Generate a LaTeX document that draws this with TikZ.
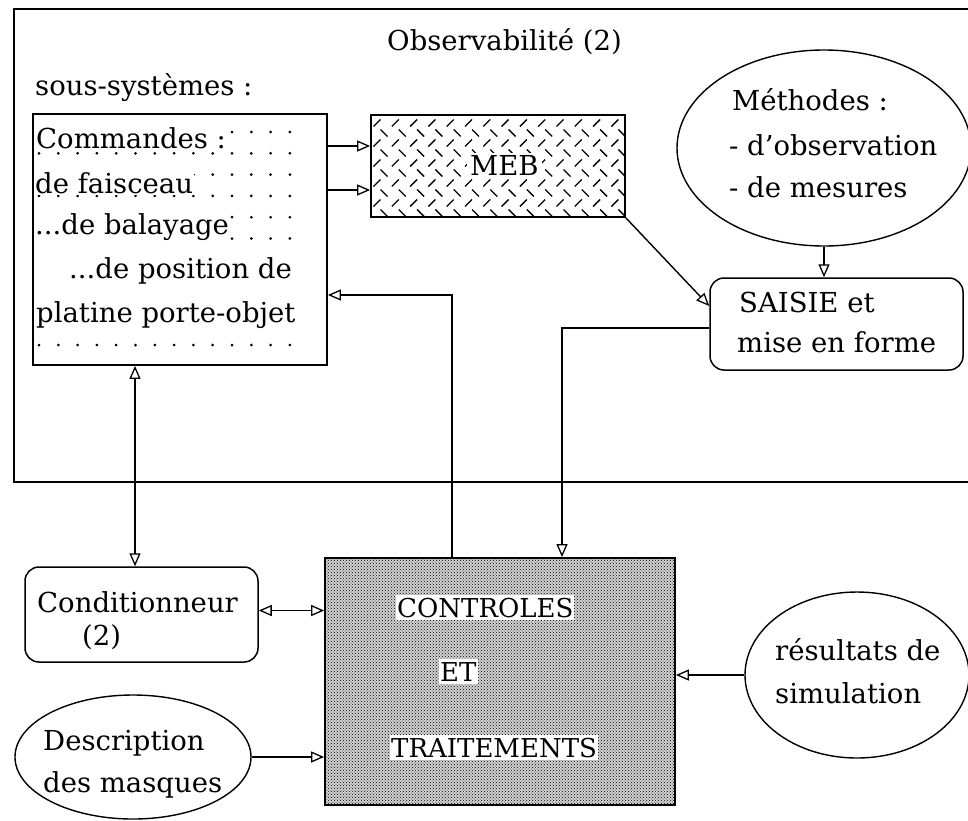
\documentclass[tikz,border=0pt]{standalone}
\usepackage{fontspec}
\setmainfont{DejaVu Serif}
\usetikzlibrary{shapes.geometric,arrows.meta,patterns}
\begin{document}
\begin{tikzpicture}[x=1pt,y=-1pt,
  txt/.style={font=\fontsize{27.5}{32}\selectfont,inner xsep=1pt,inner ysep=2pt,anchor=base west},
  wtxt/.style={txt,fill=white},
  ctxt/.style={font=\fontsize{26}{30}\selectfont,inner xsep=1pt,inner ysep=3pt,anchor=base west,fill=white},
  boxx/.style={draw,line width=1.8pt,inner sep=0pt},
  rbox/.style={draw,line width=1.5pt,rounded corners=14pt,inner sep=0pt},
  ell/.style={draw,ellipse,line width=1.4pt,inner sep=0pt},
  tip/.style={Triangle[open,length=13pt,width=11pt,line width=1.3pt]},
  arr/.style={line width=1.4pt,-{Triangle[open,length=13pt,width=11pt,line width=1.3pt]}},
  darr/.style={line width=1.4pt,{Triangle[open,length=13pt,width=11pt,line width=1.3pt]}-{Triangle[open,length=13pt,width=11pt,line width=1.3pt]}}
]
\useasboundingbox[fill=white] (0,0) rectangle (968,820);
% outer frame
\draw[line width=1.8pt] (968,9) -- (14,9) -- (14,482) -- (968,482);
\node[txt] (title) at (386,50) {Observabilité (2)};
\node[txt] (sous) at (34,95) {sous-systèmes :};

% Commandes box with dot grid
\node[boxx,minimum width=294pt,minimum height=251pt] (cmd) at (180,239.5) {};
\foreach \i in {0,...,13}
  \foreach \j in {0,...,10}
    \fill ({39+19.3*\i},{132+21.3*\j}) circle[radius=1.5pt];
\fill[white] (35,252) rectangle (70,290);
\node[wtxt] (l1) at (35,148) {Commandes :};
\node[wtxt] (l2) at (34,193) {de faisceau};
\node[wtxt] (l3) at (34,234) {...de balayage};
\node[wtxt] (l4) at (68,278) {...de position de};
\node[wtxt] (l5) at (35,322) {platine porte-objet};

% MEB box with herringbone hatch
\node[boxx,minimum width=254pt,minimum height=102pt] (meb) at (498,166) {};
\begin{scope}
  \clip (372,116) rectangle (624,216);
  \foreach \r in {0,...,5}{
    \foreach \c in {0,...,14}{
      \draw[line width=1.3pt] ({377+18.3*\c-3.5},{123+20*\r+3.5}) -- ({377+18.3*\c+3.5},{123+20*\r-3.5});
      \draw[line width=1.3pt] ({384+18.3*\c-3.5},{133+20*\r-3.5}) -- ({384+18.3*\c+3.5},{133+20*\r+3.5});
    }
  }
\end{scope}
\node[txt,fill=white,inner xsep=3pt] (mebt) at (467,175) {MEB};

% Methodes ellipse
\node[ell,minimum width=294pt,minimum height=196pt] (meth) at (824,148) {};
\node[txt] (m1) at (731,110) {Méthodes :};
\node[txt] (m2) at (728,155) {- d'observation};
\node[txt] (m3) at (728,197) {- de mesures};

% SAISIE box
\node[rbox,minimum width=253pt,minimum height=92pt] (sais) at (836.5,324) {};
\node[txt] (s1) at (738,312) {SAISIE et};
\node[txt] (s2) at (736,352) {mise en forme};

% CONTROLES box
\node[boxx,minimum width=350pt,minimum height=247pt,preaction={fill=gray!35},pattern=crosshatch dots,pattern color=black] (ctrl) at (500,681.5) {};
\node[ctxt] (c1t) at (396,617) {CONTROLES};
\node[ctxt] (c2t) at (439,681) {ET};
\node[ctxt] (c3t) at (390,757) {TRAITEMENTS};

% Conditionneur
\node[rbox,minimum width=233pt,minimum height=95pt] (cond) at (141.5,614.5) {};
\node[txt] (k1) at (36,612) {Conditionneur};
\node[txt] (k2) at (81,645) {(2)};

% Description ellipse
\node[ell,minimum width=236pt,minimum height=124pt] (desc) at (133,757) {};
\node[txt] (d1) at (42,750) {Description};
\node[txt] (d2) at (42,792) {des masques};

% resultats ellipse
\node[ell,minimum width=224pt,minimum height=166pt] (res) at (857,675) {};
\node[txt] (r1) at (774,660) {résultats de};
\node[txt] (r2) at (774,703) {simulation};

% connectors
\coordinate (a1) at ([yshift=93.5pt]cmd.east);
\coordinate (a2) at ([yshift=49.5pt]cmd.east);
\draw[arr] (a1) -- (a1 -| meb.west);
\draw[arr] (a2) -- (a2 -| meb.west);
\draw[arr] (meb.south east) -- ([yshift=18pt]sais.west);
\draw[arr] (meth.south) -- (meth.south |- sais.north);
\draw[arr] ([yshift=-4pt]sais.west) -| ([xshift=62pt]ctrl.north);
\draw[arr] ([xshift=-48pt]ctrl.north) |- ([yshift=-55.5pt]cmd.east);
\coordinate (a3) at (135,400);
\draw[darr] (cmd.south -| a3) -- (cond.north -| a3);
\coordinate (a4) at ([yshift=4pt]cond.east);
\draw[darr] (a4) -- (a4 -| ctrl.west);
\draw[arr] (desc.east) -- (desc.east -| ctrl.west);
\draw[arr] (res.west) -- (res.west -| ctrl.east);
\end{tikzpicture}
\end{document}
